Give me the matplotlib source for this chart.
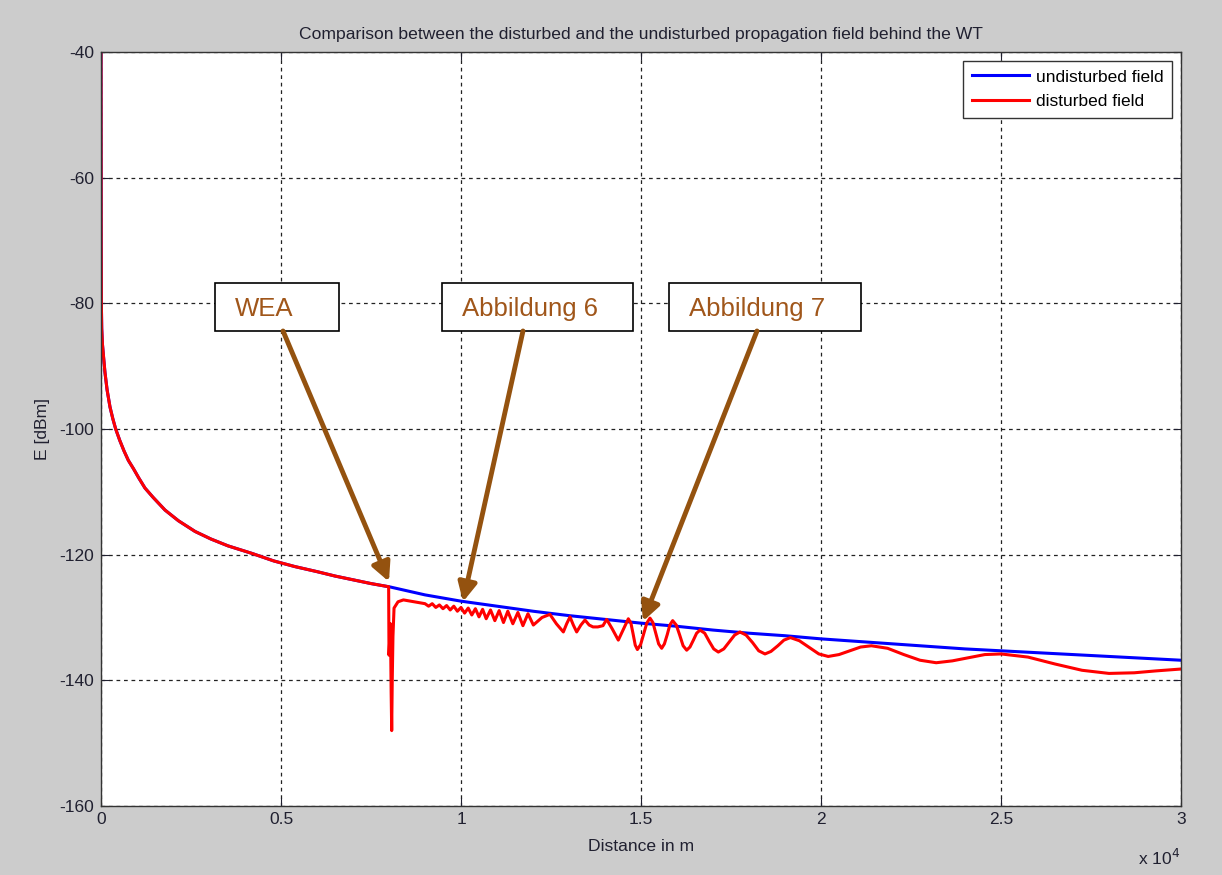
import matplotlib
matplotlib.use("Agg")
import matplotlib.pyplot as plt
import matplotlib.patches as patches

plt.rcParams['font.family'] = ['Liberation Sans', 'DejaVu Sans']
plt.rcParams['axes.unicode_minus'] = False

# near field (both curves identical up to the wind turbine)
dist_near = [0, 5, 10, 20, 40, 70, 110, 170, 250, 330, 408, 520, 640, 760,
             900, 1050, 1222, 1450, 1778, 2150, 2611, 3050, 3528, 4194, 4800,
             5389, 6000, 6500, 7000, 7500, 7990]
E_near = [-40, -70, -80, -84, -86.5, -88.5, -91, -93.8, -96.5, -98.4, -100,
          -101.8, -103.5, -105.0, -106.3, -107.8, -109.4, -110.9, -112.9,
          -114.6, -116.3, -117.5, -118.6, -119.8, -121.0, -121.9, -122.7,
          -123.4, -124.0, -124.6, -125.1]

# undisturbed field behind the WT
dist_undist = [8000, 9000, 10000, 11000, 12000, 13000, 14000, 15000, 16000,
               17000, 18000, 19000, 20000, 22000, 24000, 26000, 28000, 30000]
E_undist = [-125.1, -126.4, -127.4, -128.2, -129.0, -129.7, -130.3, -130.9,
            -131.4, -132.0, -132.5, -132.9, -133.4, -134.2, -135.0, -135.6,
            -136.2, -136.8]

# disturbed field behind the WT
dist_dist = [8000, 8040, 8060, 8075, 8090, 8110, 8140, 8250, 8400, 8600, 8800,
             9000, 9100, 9200, 9300, 9400, 9500, 9600, 9700, 9800, 9900, 10000,
             10100, 10200, 10300, 10400, 10500, 10600, 10700, 10820, 10940,
             11060, 11180, 11300, 11440, 11580, 11720, 11860,
             12010, 12250, 12470, 12650, 12843, 12935, 13028, 13120, 13213,
             13330, 13444, 13560, 13667, 13800, 13944, 14046, 14200, 14370,
             14510, 14648, 14720, 14780, 14840, 14900, 14990, 15075, 15160,
             15250, 15330, 15410, 15490, 15574, 15650, 15730, 15800, 15880,
             15980, 16075, 16170, 16269, 16360, 16455, 16545, 16639, 16770,
             16895, 17020, 17148, 17300, 17450, 17600, 17750, 17920, 18100,
             18270, 18444, 18610, 18800, 18970, 19150, 19400, 19680, 19940,
             20200, 20500, 20800, 21100, 21400, 21850, 22300, 22750, 23200,
             23650, 24100, 24550, 25000, 25750, 26500, 27250, 28000, 28700,
             29300, 30000]
E_dist = [-136, -131, -142, -148, -140, -133, -128.5, -127.5, -127.2, -127.4,
          -127.6, -127.8, -128.2, -127.8, -128.4, -128.0, -128.6, -128.1,
          -128.8, -128.2, -129.0, -128.4, -129.3, -128.5, -129.6, -128.6,
          -129.9, -128.7, -130.2, -128.8, -130.5, -128.9, -130.8, -129.0,
          -131.0, -129.2, -131.3, -129.4,
          -131.2, -130.0, -129.5, -131.0, -132.3, -131.0, -129.9, -131.2,
          -132.3, -131.2, -130.4, -131.2, -131.5, -131.5, -131.3, -130.3,
          -131.8, -133.6,
          -131.9, -130.2, -130.9, -132.6, -134.4, -135.1, -134.3, -132.6,
          -130.9, -130.1, -130.8, -132.5, -134.2, -134.9, -134.2, -132.7,
          -131.2, -130.5, -131.2, -132.8, -134.5, -135.2, -134.7, -133.6,
          -132.5, -132.0, -132.5, -133.8, -135.0, -135.5, -135.0, -133.9,
          -132.8, -132.3, -132.8, -134.0, -135.3, -135.8, -135.4, -134.5,
          -133.6, -133.2, -133.7, -134.8, -135.8, -136.2, -135.9, -135.3,
          -134.7, -134.5, -134.9, -135.9, -136.8, -137.2, -136.9, -136.4,
          -135.9, -135.8, -136.3, -137.4, -138.4, -138.9, -138.8, -138.5,
          -138.2]

x_ticks = [0, 5000, 10000, 15000, 20000, 25000, 30000]
x_tick_labels = ['0', '0.5', '1', '1.5', '2', '2.5', '3']
y_ticks = [-160, -140, -120, -100, -80, -60, -40]

# annotation labels: text, box (x0, x1, y0, y1), arrow tail, arrow tip
notes = [
    ("WEA", (3170, 6610, -84.4, -76.8), (5056, -84.4), (8000, -124.3)),
    ("Abbildung 6", (9470, 14790, -84.4, -76.8), (11722, -84.4), (10056, -127.5)),
    ("Abbildung 7", (15780, 21110, -84.4, -76.8), (18222, -84.4), (15056, -130.6)),
]

undist_x = dist_near + dist_undist
undist_y = E_near + E_undist
dist_x = dist_near + dist_dist
dist_y = E_near + E_dist

txt = '#202030'
fig = plt.figure(figsize=(12.22, 8.75), dpi=100, facecolor='#cccccc')
ax = fig.add_axes([101 / 1222, 1 - 806 / 875, 1080 / 1222, 754 / 875])
ax.set_facecolor('white')

ax.plot(undist_x, undist_y, color='#0000ff', lw=2.2, label='undisturbed field')
ax.plot(dist_x, dist_y, color='#ff0000', lw=2.2, label='disturbed field')

ax.set_xlim(0, 30000)
ax.set_ylim(-160, -40)
ax.set_xticks(x_ticks)
ax.set_xticklabels(x_tick_labels)
ax.set_yticks(y_ticks)
ax.tick_params(direction='in', length=6, top=True, right=True, labelsize=12.5,
               colors=txt)
ax.tick_params(axis='x', pad=4)
ax.tick_params(axis='y', pad=5)
ax.grid(True, color='#222222', linestyle=(0, (3, 3)), lw=0.9)
for s in ax.spines.values():
    s.set_color('#333333')
    s.set_linewidth(1.0)

ax.set_title("Comparison between the disturbed and the undisturbed propagation field behind the WT",
             fontsize=12.6, color=txt, pad=9)
ax.set_xlabel("Distance in m", fontsize=12.6, color=txt, labelpad=9)
ax.set_ylabel("E [dBm]", fontsize=12.6, color=txt, labelpad=7)
fig.text(1180 / 1222, 1 - 858 / 875, r"x 10$^4$", fontsize=12.5, color=txt,
         ha='right', va='center')

leg = ax.legend(loc='upper right', fontsize=12.5, handlelength=3.3,
                handletextpad=0.4, fancybox=False, framealpha=1,
                edgecolor='#333333', borderaxespad=0.5, borderpad=0.5,
                labelspacing=0.55)
leg.get_frame().set_linewidth(1.0)

brown = '#94520f'
for label, (x0, x1, y0, y1), tail, tip in notes:
    ax.add_patch(patches.Rectangle((x0, y0), x1 - x0, y1 - y0, facecolor='white',
                                   edgecolor='black', lw=1.2, zorder=5))
    ax.text(x0 + 550, (y0 + y1) / 2 - 0.3, label, fontsize=18.5, color='#a0561a',
            ha='left', va='center', zorder=6)
    ax.annotate('', xy=tip, xytext=tail, zorder=7,
                arrowprops=dict(arrowstyle='-|>', color=brown, lw=3.5,
                                mutation_scale=28, shrinkA=0, shrinkB=0))

fig.savefig("out.png", dpi=100, facecolor=fig.get_facecolor())
